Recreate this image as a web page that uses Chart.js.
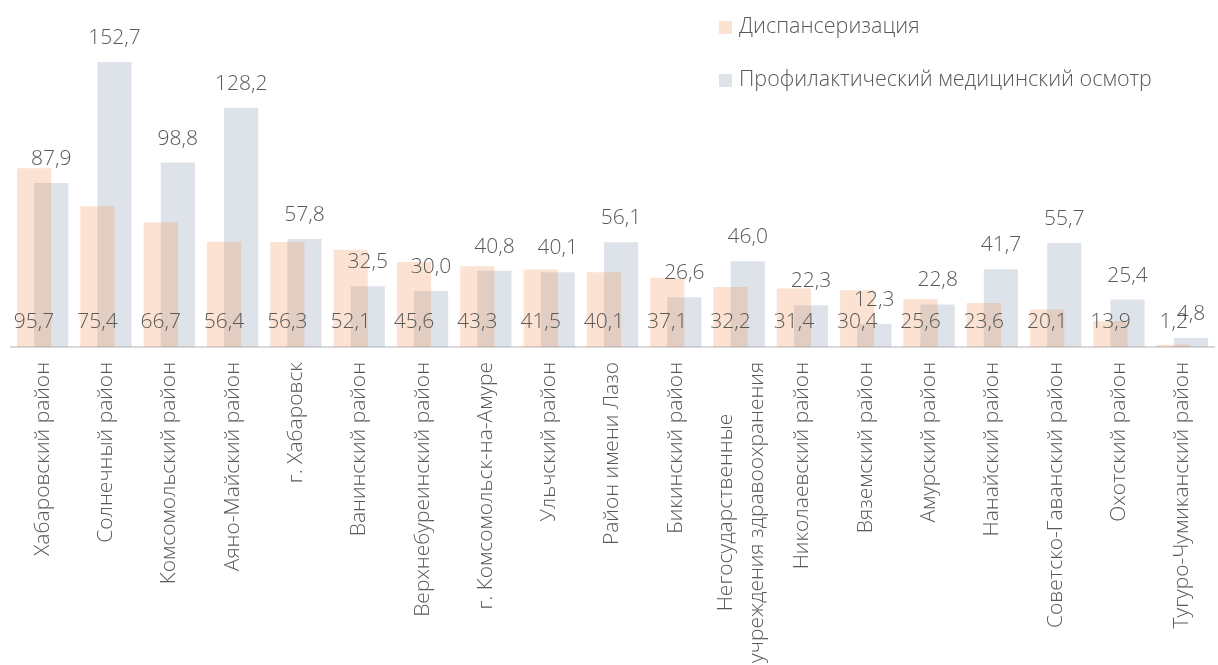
<!DOCTYPE html>
<html lang="ru">
<head>
<meta charset="utf-8">
<script src="https://cdn.jsdelivr.net/npm/chart.js@4.4.1/dist/chart.umd.min.js"></script>
<style>
  html, body { margin: 0; padding: 0; background: #fff; }
  #wrap { position: relative; width: 1218px; height: 665px; overflow: hidden; }
  #legend { position: absolute; left: 719px; top: 10px; font-family: "Open Sans", Lato, sans-serif; font-weight: 300; font-size: 21.5px; color: #595959; }
  #legend div { height: 30px; line-height: 30px; margin-bottom: 23px; white-space: nowrap; }
  #legend span.box { display: inline-block; width: 13px; height: 13px; margin-right: 7px; vertical-align: -1px; }
</style>
</head>
<body>
<div id="wrap">
  <canvas id="chart" width="1218" height="665"></canvas>
  <div id="legend"></div>
</div>
<script>
document.addEventListener("DOMContentLoaded", function () {
    const categories = [
        'Хабаровский район', 'Солнечный район', 'Комсомольский район', 'Аяно-Майский район',
        'г. Хабаровск', 'Ванинский район', 'Верхнебуреинский район', 'г. Комсомольск-на-Амуре',
        'Ульчский район', 'Район имени Лазо', 'Бикинский район',
        ['Негосударственные', 'учреждения здравоохранения'],
        'Николаевский район', 'Вяземский район', 'Амурский район', 'Нанайский район',
        'Советско-Гаванский район', 'Охотский район', 'Тугуро-Чумиканский район'
    ];
    const seriesNames = ['Диспансеризация', 'Профилактический медицинский осмотр'];
    const dispValues = [95.7, 75.4, 66.7, 56.4, 56.3, 52.1, 45.6, 43.3, 41.5, 40.1, 37.1, 32.2, 31.4, 30.4, 25.6, 23.6, 20.1, 13.9, 1.2];
    const profValues = [87.9, 152.7, 98.8, 128.2, 57.8, 32.5, 30.0, 40.8, 40.1, 56.1, 26.6, 46.0, 22.3, 12.3, 22.8, 41.7, 55.7, 25.4, 4.8];

    const textColor = '#595959';
    const fontFamily = '"Open Sans", Lato, sans-serif';
    const colors = ['rgba(237, 125, 49, 0.22)', 'rgba(132, 151, 176, 0.27)'];
    const tickLineHeight = 31;

    function fmt(v) {
        return v.toFixed(1).replace('.', ',');
    }

    // value labels: first series sits at the base, second above the bar
    const valueLabels = {
        id: 'valueLabels',
        afterDatasetsDraw(chart) {
            const ctx = chart.ctx;
            ctx.save();
            ctx.font = '300 21px ' + fontFamily;
            ctx.fillStyle = textColor;
            ctx.textAlign = 'center';
            ctx.textBaseline = 'alphabetic';
            chart.data.datasets.forEach((ds, di) => {
                const meta = chart.getDatasetMeta(di);
                meta.data.forEach((bar, i) => {
                    const txt = fmt(ds.data[i]);
                    if (di === 0) {
                        ctx.fillText(txt, bar.x, bar.base - 19);
                    } else {
                        ctx.fillText(txt, bar.x, bar.y - 18);
                    }
                });
            });
            ctx.restore();
        }
    };

    // two-line category label: center the lines on each other and around the tick
    const centerMultiline = {
        id: 'centerMultiline',
        beforeDraw(chart) {
            const ctx = chart.ctx;
            const scale = chart.scales.x;
            scale.getLabelItems().forEach((item, i) => {
                if (!Array.isArray(item.label)) return;
                ctx.save();
                ctx.font = item.font.string;
                const w = Math.max(...item.label.map(s => ctx.measureText(s).width));
                ctx.restore();
                const pixel = scale.getPixelForTick(i);
                item.options.textAlign = 'center';
                item.options.translation[1] += w / 2;
                item.options.translation[0] = pixel + 2 - tickLineHeight * (item.label.length - 1) / 2 - item.textOffset;
            });
        }
    };

    const chart = new Chart(document.getElementById('chart').getContext('2d'), {
        type: 'bar',
        data: {
            labels: categories,
            datasets: [
                { label: seriesNames[0], data: dispValues, backgroundColor: colors[0] },
                { label: seriesNames[1], data: profValues, backgroundColor: colors[1] }
            ]
        },
        options: {
            responsive: false,
            animation: false,
            categoryPercentage: 0.54,
            barPercentage: 2,
            layout: { padding: { left: 11, right: 4, top: 11, bottom: 0 } },
            plugins: {
                legend: { display: false },
                tooltip: { enabled: false }
            },
            scales: {
                x: {
                    grid: { display: false, drawTicks: false },
                    border: { color: '#d9d9d9', width: 2 },
                    ticks: {
                        color: textColor,
                        font: { family: fontFamily, weight: 300, size: 21, lineHeight: tickLineHeight / 21 },
                        minRotation: 90,
                        maxRotation: 90,
                        autoSkip: false,
                        padding: 15
                    },
                    afterFit(axis) {
                        axis.height = 318;
                        axis.paddingLeft = 0;
                        axis.paddingRight = 0;
                    }
                },
                y: {
                    display: false,
                    min: 0,
                    max: 180
                }
            }
        },
        plugins: [valueLabels, centerMultiline]
    });

    // legend stacked vertically in the top right corner
    const legend = document.getElementById('legend');
    chart.data.datasets.forEach((ds) => {
        const row = document.createElement('div');
        const box = document.createElement('span');
        box.className = 'box';
        box.style.background = ds.backgroundColor;
        row.appendChild(box);
        row.appendChild(document.createTextNode(ds.label));
        legend.appendChild(row);
    });
});
</script>
</body>
</html>
